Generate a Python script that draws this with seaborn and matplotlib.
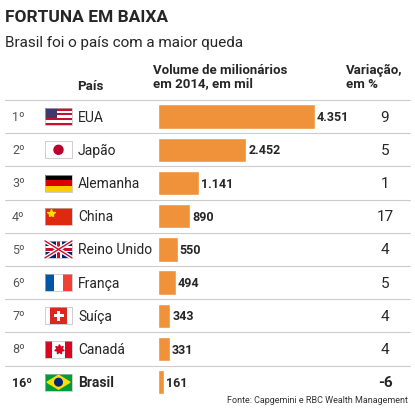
import matplotlib.pyplot as plt
import matplotlib.patches as mpatches
import seaborn as sns
import pandas as pd

ranks = ['1º', '2º', '3º', '4º', '5º', '6º', '7º', '8º', '16º']
countries = ['EUA', 'Japão', 'Alemanha', 'China', 'Reino Unido', 'França', 'Suíça', 'Canadá', 'Brasil']
flags = ['us', 'jp', 'de', 'cn', 'uk', 'fr', 'ch', 'ca', 'br']
volume = [4351, 2452, 1141, 890, 550, 494, 343, 331, 161]
variation = ['9', '5', '1', '17', '4', '5', '4', '4', '-6']
volume_labels = ['4.351', '2.452', '1.141', '890', '550', '494', '343', '331', '161']

ORANGE = '#F0923A'
W, H = 415, 410
sns.set_style('white')
plt.rcParams['font.family'] = ['Roboto', 'DejaVu Sans']

fig = plt.figure(figsize=(W / 100, H / 100), dpi=100)
# overlay axes in pixel coordinates for decorations
deco = fig.add_axes([0, 0, 1, 1])
deco.set_xlim(0, W)
deco.set_ylim(H, 0)
deco.axis('off')

top, row_h = 101, 33.2
centers = [top + row_h * (i + 0.5) for i in range(len(countries))]

deco.text(5, 18, 'FORTUNA EM BAIXA', fontsize=12.5, weight='bold', va='center')
deco.text(5, 43, 'Brasil foi o país com a maior queda', fontsize=11, va='center')
deco.text(90, 86, 'País', fontsize=9.5, weight='bold', va='center', ha='center')
deco.text(153, 77, 'Volume de milionários\nem 2014, em mil', fontsize=9.5, weight='bold',
          va='center', linespacing=1.1)
deco.text(346, 77, 'Variação,\nem %', fontsize=9.5, weight='bold', va='center', linespacing=1.1)
deco.text(408, 401, 'Fonte: Capgemini e RBC Wealth Management', fontsize=6.5, ha='right',
          va='center', color='#333333')

for k in range(len(countries)):
    y0 = top + row_h * k
    deco.plot([5, 410], [y0, y0], color='#cccccc', lw=0.8)


def rect(x, y, w, h, c):
    deco.add_patch(mpatches.Rectangle((x, y), w, h, facecolor=c, edgecolor='none'))


def draw_flag(code, cy):
    x, w, h = 45, 27, 17
    y = cy - h / 2
    if code == 'us':
        for s in range(7):
            rect(x, y + s * h / 7, w, h / 7, '#c8102e' if s % 2 == 0 else 'white')
        rect(x, y, w * 0.45, h * 4 / 7, '#3c3b6e')
    elif code == 'jp':
        rect(x, y, w, h, 'white')
        deco.add_patch(mpatches.Circle((x + w / 2, cy), 4.5, color='#bc002d'))
    elif code == 'de':
        for i, c in enumerate(['black', '#dd0000', '#ffce00']):
            rect(x, y + i * h / 3, w, h / 3, c)
    elif code == 'cn':
        rect(x, y, w, h, '#de2910')
        deco.plot(x + 6, y + 5, marker='*', color='#ffde00', ms=6)
    elif code == 'uk':
        rect(x, y, w, h, '#012169')
        deco.plot([x, x + w], [y, y + h], color='white', lw=3)
        deco.plot([x, x + w], [y + h, y], color='white', lw=3)
        deco.plot([x, x + w], [y, y + h], color='#c8102e', lw=1)
        deco.plot([x, x + w], [y + h, y], color='#c8102e', lw=1)
        rect(x + w / 2 - 3, y, 6, h, 'white')
        rect(x, cy - 3, w, 6, 'white')
        rect(x + w / 2 - 1.8, y, 3.6, h, '#c8102e')
        rect(x, cy - 1.8, w, 3.6, '#c8102e')
    elif code == 'fr':
        for i, c in enumerate(['#0055a4', 'white', '#ef4135']):
            rect(x + i * w / 3, y, w / 3, h, c)
    elif code == 'ch':
        rect(x, y, w, h, 'white')
        rect(x + 5, y, w - 10, h, '#da291c')
        rect(x + w / 2 - 1.5, cy - 5, 3, 10, 'white')
        rect(x + w / 2 - 5, cy - 1.5, 10, 3, 'white')
    elif code == 'ca':
        rect(x, y, w, h, '#d80621')
        rect(x + w / 4, y, w / 2, h, 'white')
        deco.plot(x + w / 2, cy, marker=(7, 1, 0), color='#d80621', ms=7)
    elif code == 'br':
        rect(x, y, w, h, '#009c3b')
        deco.add_patch(mpatches.Polygon([(x + 2, cy), (x + w / 2, y + 1.5), (x + w - 2, cy),
                                         (x + w / 2, y + h - 1.5)], color='#ffdf00'))
        deco.add_patch(mpatches.Circle((x + w / 2, cy), 3.8, color='#002776'))
    deco.add_patch(mpatches.Rectangle((x, y), w, h, fill=False, edgecolor='#bbbbbb', lw=0.5))


for i, cy in enumerate(centers):
    bold = 'bold' if countries[i] == 'Brasil' else 'normal'
    deco.text(12, cy, ranks[i], fontsize=9, color='#222222' if bold == 'bold' else '#555555',
              weight=bold, va='center')
    draw_flag(flags[i], cy)
    deco.text(78, cy, countries[i], fontsize=10, weight=bold, va='center')
    deco.text(385, cy, variation[i], fontsize=11, weight=bold, va='center', ha='center')

# bar axes
x0, x1 = 158, 415
ax = fig.add_axes([x0 / W, 1 - (top + row_h * 9) / H, (x1 - x0) / W, row_h * 9 / H])
df = pd.DataFrame({'country': countries, 'volume': volume})
sns.barplot(data=df, x='volume', y='country', color=ORANGE, width=0.73, ax=ax,
            saturation=1, orient='h')
scale = 4351 / 157
ax.set_xlim(0, (x1 - x0) * scale)
ax.set_ylim(len(countries) - 0.5, -0.5)
ax.axis('off')
for i, v in enumerate(volume):
    ax.text(v + 2 * scale, i, volume_labels[i], fontsize=9, weight='bold', va='center')

fig.savefig('out.png', dpi=100)
